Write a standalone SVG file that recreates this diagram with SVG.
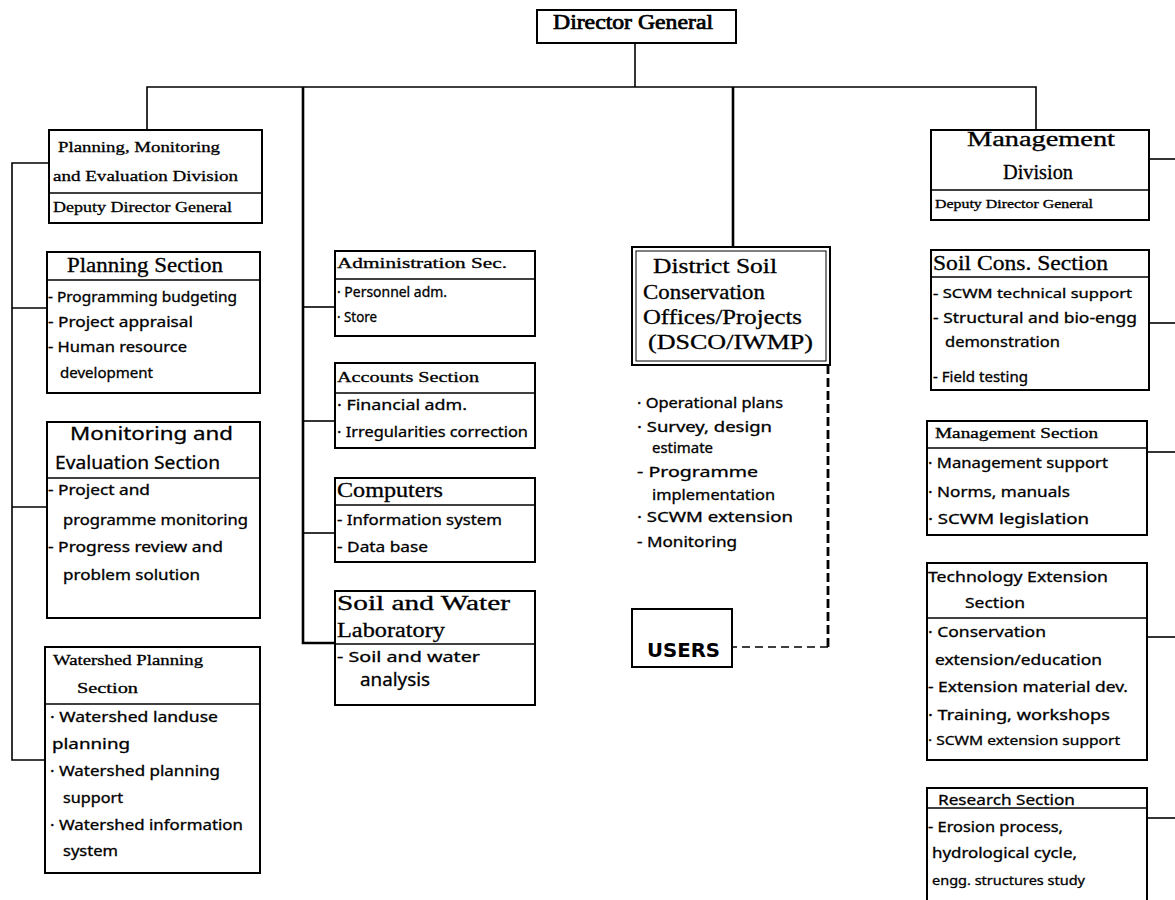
<svg xmlns="http://www.w3.org/2000/svg" width="1175" height="900" viewBox="0 0 1175 900">
  <style>
    .box { fill: #fff; stroke: #000; stroke-width: 2; }
    .div { stroke: #000; stroke-width: 1.6; fill: none; }
    .ln { stroke: #000; stroke-width: 1.6; fill: none; }
    .lnb { stroke: #000; stroke-width: 2.6; fill: none; }
    .dv { stroke: #000; stroke-width: 2.8; fill: none; stroke-dasharray: 9 4; }
    .dh { stroke: #000; stroke-width: 1.6; fill: none; stroke-dasharray: 8 5; }
    text { fill: #000; stroke: #000; stroke-width: 0.3; }
    .h1 { font-family: "Liberation Serif", serif; font-size: 20px; }
    .h2 { font-family: "Noto Sans", "Liberation Sans", sans-serif; font-size: 18px; }
    .s { font-family: "Liberation Serif", serif; font-size: 15px; }
    .b { font-family: "Noto Sans", "Liberation Sans", sans-serif; font-size: 14px; }
    .t { font-family: "Noto Sans", "Liberation Sans", sans-serif; font-size: 15px; }
    .u { font-family: "DejaVu Sans", sans-serif; font-size: 19px; font-weight: bold; stroke-width: 0; }
    .dg { stroke-width: 0.7; }
  </style>

  <!-- connectors -->
  <g id="connectors">
    <path class="ln" d="M635 43 V87"/>
    <path class="ln" d="M147 130 V87 H1036 V130"/>
    <path class="lnb" d="M303 87 V643 H335"/>
    <path class="lnb" d="M733 87 V247"/>
    <path class="ln" d="M49 163 H12 V760 H45"/>
    <path class="ln" d="M12 308 H47"/>
    <path class="ln" d="M12 507 H47"/>
    <path class="ln" d="M303 307 H335"/>
    <path class="ln" d="M303 421 H335"/>
    <path class="ln" d="M303 533 H335"/>
    <path class="dv" d="M828 365 V647"/>
    <path class="dh" d="M828 647 H732"/>
    <path class="ln" d="M1149 159 H1175"/>
    <path class="ln" d="M1149 323 H1175"/>
    <path class="ln" d="M1147 452 H1175"/>
    <path class="ln" d="M1147 637 H1175"/>
    <path class="ln" d="M1147 818 H1175"/>
  </g>

  <g id="director-general">
    <rect class="box" x="537" y="10" width="199" height="33"/>
    <text class="h1 dg" x="553" y="29" textLength="160" lengthAdjust="spacingAndGlyphs">Director General</text>
  </g>

  <!-- left column -->
  <g id="pmed-division">
    <rect class="box" x="49" y="130" width="213" height="93"/>
    <line class="div" x1="49" y1="193" x2="262" y2="193"/>
    <text class="s" x="58" y="152" textLength="162" lengthAdjust="spacingAndGlyphs">Planning, Monitoring</text>
    <text class="s" x="53" y="181" textLength="185" lengthAdjust="spacingAndGlyphs">and Evaluation Division</text>
    <text class="s" x="53" y="212" textLength="179" lengthAdjust="spacingAndGlyphs">Deputy Director General</text>
  </g>

  <g id="planning-section">
    <rect class="box" x="47" y="252" width="213" height="141"/>
    <line class="div" x1="47" y1="280" x2="260" y2="280"/>
    <text class="h1" x="67" y="272" textLength="156" lengthAdjust="spacingAndGlyphs">Planning Section</text>
    <text class="b" x="48" y="302" textLength="189" lengthAdjust="spacingAndGlyphs">- Programming budgeting</text>
    <text class="b" x="48" y="327" textLength="145" lengthAdjust="spacingAndGlyphs">- Project appraisal</text>
    <text class="b" x="48" y="352" textLength="139" lengthAdjust="spacingAndGlyphs">- Human resource</text>
    <text class="b" x="60" y="378" textLength="93" lengthAdjust="spacingAndGlyphs">development</text>
  </g>

  <g id="me-section">
    <rect class="box" x="47" y="422" width="213" height="196"/>
    <line class="div" x1="47" y1="478" x2="260" y2="478"/>
    <text class="h2" x="70" y="440" textLength="163" lengthAdjust="spacingAndGlyphs">Monitoring and</text>
    <text class="h2" x="55" y="469" textLength="165" lengthAdjust="spacingAndGlyphs">Evaluation Section</text>
    <text class="b" x="48" y="495" textLength="102" lengthAdjust="spacingAndGlyphs">- Project and</text>
    <text class="b" x="63" y="525" textLength="185" lengthAdjust="spacingAndGlyphs">programme monitoring</text>
    <text class="b" x="48" y="552" textLength="175" lengthAdjust="spacingAndGlyphs">- Progress review and</text>
    <text class="b" x="63" y="580" textLength="137" lengthAdjust="spacingAndGlyphs">problem solution</text>
  </g>

  <g id="watershed-section">
    <rect class="box" x="45" y="647" width="215" height="226"/>
    <line class="div" x1="45" y1="704" x2="260" y2="704"/>
    <text class="s" x="53" y="665" textLength="150" lengthAdjust="spacingAndGlyphs">Watershed Planning</text>
    <text class="s" x="77" y="693" textLength="61" lengthAdjust="spacingAndGlyphs">Section</text>
    <text class="b" x="50" y="722" textLength="168" lengthAdjust="spacingAndGlyphs">· Watershed landuse</text>
    <text class="b" x="52" y="749" textLength="78" lengthAdjust="spacingAndGlyphs">planning</text>
    <text class="b" x="50" y="776" textLength="170" lengthAdjust="spacingAndGlyphs">· Watershed planning</text>
    <text class="b" x="63" y="803" textLength="60" lengthAdjust="spacingAndGlyphs">support</text>
    <text class="b" x="50" y="830" textLength="193" lengthAdjust="spacingAndGlyphs">· Watershed information</text>
    <text class="b" x="63" y="856" textLength="55" lengthAdjust="spacingAndGlyphs">system</text>
  </g>

  <!-- second column -->
  <g id="administration-section">
    <rect class="box" x="335" y="251" width="200" height="85"/>
    <line class="div" x1="335" y1="279" x2="535" y2="279"/>
    <text class="s" x="337" y="268" textLength="170" lengthAdjust="spacingAndGlyphs">Administration Sec.</text>
    <text class="b" x="337" y="297" textLength="110" lengthAdjust="spacingAndGlyphs">· Personnel adm.</text>
    <text class="b" x="337" y="322" textLength="40" lengthAdjust="spacingAndGlyphs">· Store</text>
  </g>

  <g id="accounts-section">
    <rect class="box" x="335" y="363" width="200" height="85"/>
    <line class="div" x1="335" y1="393" x2="535" y2="393"/>
    <text class="s" x="337" y="382" textLength="142" lengthAdjust="spacingAndGlyphs">Accounts Section</text>
    <text class="b" x="337" y="410" textLength="130" lengthAdjust="spacingAndGlyphs">· Financial adm.</text>
    <text class="b" x="337" y="437" textLength="191" lengthAdjust="spacingAndGlyphs">· Irregularities correction</text>
  </g>

  <g id="computers">
    <rect class="box" x="335" y="478" width="200" height="84"/>
    <line class="div" x1="335" y1="505" x2="535" y2="505"/>
    <text class="h1" x="337" y="497" textLength="106" lengthAdjust="spacingAndGlyphs">Computers</text>
    <text class="b" x="337" y="525" textLength="165" lengthAdjust="spacingAndGlyphs">- Information system</text>
    <text class="b" x="337" y="552" textLength="91" lengthAdjust="spacingAndGlyphs">- Data base</text>
  </g>

  <g id="soil-water-laboratory">
    <rect class="box" x="335" y="591" width="200" height="114"/>
    <line class="div" x1="335" y1="644" x2="535" y2="644"/>
    <text class="h1" x="337" y="610" textLength="173" lengthAdjust="spacingAndGlyphs">Soil and Water</text>
    <text class="h1" x="337" y="637" textLength="108" lengthAdjust="spacingAndGlyphs">Laboratory</text>
    <text class="b" x="337" y="662" textLength="143" lengthAdjust="spacingAndGlyphs">- Soil and water</text>
    <text class="h2" x="360" y="686" textLength="70" lengthAdjust="spacingAndGlyphs">analysis</text>
  </g>

  <!-- district offices -->
  <g id="dsco-iwmp">
    <rect class="box" x="632" y="247" width="198" height="118"/>
    <rect x="636" y="251" width="190" height="110" fill="none" stroke="#000" stroke-width="1"/>
    <text class="h1" x="653" y="273" textLength="124" lengthAdjust="spacingAndGlyphs">District Soil</text>
    <text class="h1" x="643" y="299" textLength="122" lengthAdjust="spacingAndGlyphs">Conservation</text>
    <text class="h1" x="643" y="324" textLength="159" lengthAdjust="spacingAndGlyphs">Offices/Projects</text>
    <text class="h1" x="648" y="349" textLength="165" lengthAdjust="spacingAndGlyphs">(DSCO/IWMP)</text>
  </g>

  <g id="dsco-tasks">
    <text class="b" x="637" y="408" textLength="146" lengthAdjust="spacingAndGlyphs">· Operational plans</text>
    <text class="b" x="637" y="432" textLength="135" lengthAdjust="spacingAndGlyphs">· Survey, design</text>
    <text class="b" x="652" y="453" textLength="61" lengthAdjust="spacingAndGlyphs">estimate</text>
    <text class="b" x="637" y="477" textLength="121" lengthAdjust="spacingAndGlyphs">- Programme</text>
    <text class="b" x="652" y="500" textLength="123" lengthAdjust="spacingAndGlyphs">implementation</text>
    <text class="b" x="637" y="522" textLength="156" lengthAdjust="spacingAndGlyphs">· SCWM extension</text>
    <text class="b" x="637" y="547" textLength="100" lengthAdjust="spacingAndGlyphs">- Monitoring</text>
  </g>

  <g id="users">
    <rect class="box" x="632" y="609" width="100" height="58"/>
    <text class="u" x="647" y="657" textLength="73" lengthAdjust="spacingAndGlyphs">USERS</text>
  </g>

  <!-- right column -->
  <g id="management-division">
    <rect class="box" x="931" y="130" width="218" height="90"/>
    <line class="div" x1="931" y1="190" x2="1149" y2="190"/>
    <text class="h1" x="967" y="146" textLength="148" lengthAdjust="spacingAndGlyphs">Management</text>
    <text class="h1" x="1003" y="179" textLength="70" lengthAdjust="spacingAndGlyphs">Division</text>
    <text class="s" x="935" y="208" style="font-size:12px" textLength="158" lengthAdjust="spacingAndGlyphs">Deputy Director General</text>
  </g>

  <g id="soil-cons-section">
    <rect class="box" x="931" y="250" width="218" height="140"/>
    <line class="div" x1="931" y1="277" x2="1149" y2="277"/>
    <text class="h1" x="933" y="270" style="font-size:21px" textLength="175" lengthAdjust="spacingAndGlyphs">Soil Cons. Section</text>
    <text class="b" x="933" y="298" style="font-size:13px" textLength="199" lengthAdjust="spacingAndGlyphs">- SCWM technical support</text>
    <text class="b" x="933" y="323" textLength="204" lengthAdjust="spacingAndGlyphs">- Structural and bio-engg</text>
    <text class="b" x="945" y="347" textLength="115" lengthAdjust="spacingAndGlyphs">demonstration</text>
    <text class="b" x="933" y="382" textLength="95" lengthAdjust="spacingAndGlyphs">- Field testing</text>
  </g>

  <g id="management-section">
    <rect class="box" x="927" y="421" width="220" height="114"/>
    <line class="div" x1="927" y1="448" x2="1147" y2="448"/>
    <text class="s" x="935" y="438" textLength="163" lengthAdjust="spacingAndGlyphs">Management Section</text>
    <text class="b" x="928" y="468" textLength="180" lengthAdjust="spacingAndGlyphs">· Management support</text>
    <text class="b" x="928" y="497" textLength="142" lengthAdjust="spacingAndGlyphs">· Norms, manuals</text>
    <text class="b" x="928" y="524" textLength="161" lengthAdjust="spacingAndGlyphs">· SCWM legislation</text>
  </g>

  <g id="technology-extension-section">
    <rect class="box" x="927" y="563" width="220" height="197"/>
    <line class="div" x1="927" y1="618" x2="1147" y2="618"/>
    <text class="t" x="928" y="582" textLength="180" lengthAdjust="spacingAndGlyphs">Technology Extension</text>
    <text class="t" x="965" y="608" textLength="60" lengthAdjust="spacingAndGlyphs">Section</text>
    <text class="b" x="928" y="637" textLength="118" lengthAdjust="spacingAndGlyphs">· Conservation</text>
    <text class="b" x="935" y="665" textLength="167" lengthAdjust="spacingAndGlyphs">extension/education</text>
    <text class="b" x="928" y="692" textLength="200" lengthAdjust="spacingAndGlyphs">- Extension material dev.</text>
    <text class="b" x="928" y="720" textLength="182" lengthAdjust="spacingAndGlyphs">· Training, workshops</text>
    <text class="b" x="928" y="745" style="font-size:13px" textLength="192" lengthAdjust="spacingAndGlyphs">· SCWM extension support</text>
  </g>

  <g id="research-section">
    <rect class="box" x="927" y="788" width="220" height="120"/>
    <line class="div" x1="927" y1="808" x2="1147" y2="808"/>
    <text class="t" x="938" y="805" textLength="137" lengthAdjust="spacingAndGlyphs">Research Section</text>
    <text class="b" x="928" y="832" textLength="135" lengthAdjust="spacingAndGlyphs">- Erosion process,</text>
    <text class="b" x="932" y="858" textLength="145" lengthAdjust="spacingAndGlyphs">hydrological cycle,</text>
    <text class="b" x="932" y="885" style="font-size:13px" textLength="153" lengthAdjust="spacingAndGlyphs">engg. structures study</text>
  </g>
</svg>
